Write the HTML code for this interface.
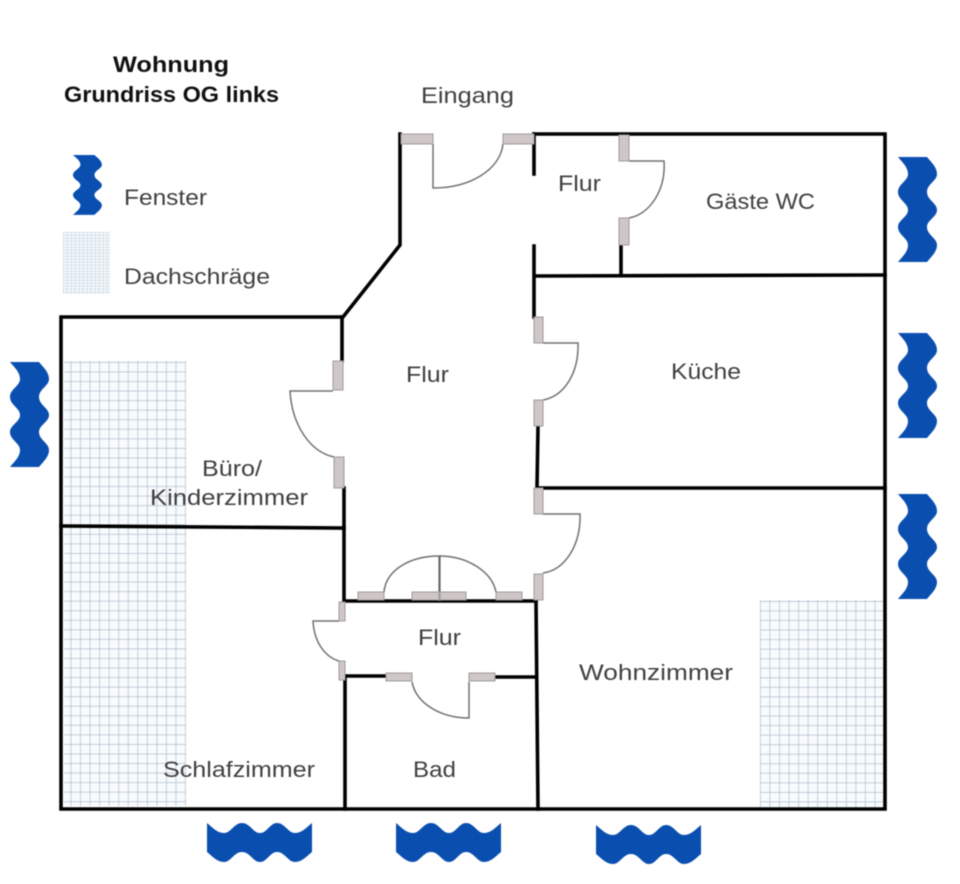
<!DOCTYPE html>
<html lang="de">
<head>
<meta charset="utf-8">
<title>Wohnung Grundriss OG links</title>
<style>
html,body{margin:0;padding:0;background:#fff;width:960px;height:884px;overflow:hidden}
svg{display:block;filter:blur(.5px)}
text{font-family:"Liberation Sans",sans-serif;font-size:22px;fill:#404040}
.t{font-weight:bold;fill:#111}
.w{fill:none;stroke:#000;stroke-width:3.6;stroke-linecap:square;stroke-linejoin:miter}
.d{fill:none;stroke:#707070;stroke-width:1.5}
.j{fill:#cfc7c7;stroke:#a09a9a;stroke-width:1}
.win{fill:#0a4fb0}
</style>
</head>
<body>
<svg width="960" height="884" viewBox="0 0 960 884" xmlns="http://www.w3.org/2000/svg">
<defs>
<pattern id="g" width="9.55" height="9.55" patternUnits="userSpaceOnUse" x="61" y="362">
<path d="M0 0H9.55M0 0V9.55" fill="none" stroke="#aebccd" stroke-width="1.4"/>
</pattern>
<pattern id="g2" width="9.55" height="9.55" patternUnits="userSpaceOnUse" x="760" y="601">
<path d="M0 0H9.55M0 0V9.55" fill="none" stroke="#aebccd" stroke-width="1.4"/>
</pattern>
<pattern id="g3" width="4" height="3" patternUnits="userSpaceOnUse" x="63" y="232">
<path d="M0 0H4M0 0V3" fill="none" stroke="#c6d4e1" stroke-width="1"/>
</pattern>
<path id="wv" d="M0 0C5 4 10 10 17 10C24 10 27 0 35 0C43 0 46 10 53 10C60 10 63 0 70 0C78 0 81 10 88 10C95 10 100 4 105 0L105 29C100 33 95 39 88 39C81 39 78 29 70 29C63 29 60 39 53 39C46 39 43 29 35 29C27 29 24 39 17 39C10 39 5 33 0 29Z"/>
</defs>

<!-- Dachschräge -->
<rect x="64" y="361" width="122" height="445" fill="#f8fbfd"/>
<rect x="64" y="361" width="122" height="445" fill="url(#g)"/>
<rect x="760" y="600" width="124" height="207" fill="#f8fbfd"/>
<rect x="760" y="600" width="124" height="207" fill="url(#g2)"/>
<rect x="63" y="232" width="47" height="62" fill="#f4f8fb"/>
<rect x="63" y="232" width="47" height="62" fill="url(#g3)"/>

<!-- Fenster -->
<g class="win">
<use href="#wv" transform="matrix(0 1 1 0 898 157)"/>
<use href="#wv" transform="matrix(0 1 1 0 898 333)"/>
<use href="#wv" transform="matrix(0 1 1 0 898 494)"/>
<use href="#wv" transform="matrix(0 1 1 0 10 362)"/>
<use href="#wv" transform="translate(207 823)"/>
<use href="#wv" transform="translate(396 823)"/>
<use href="#wv" transform="translate(596 825)"/>
<use href="#wv" transform="matrix(0 .57 .74 0 73 155)"/>
</g>

<!-- Wände -->
<g class="w">
<path d="M534 134H885V809H61V317H343L400 245V134"/>
<path d="M342 317V361"/>
<path d="M344 488V601H536"/>
<path d="M61 526L344 528"/>
<path d="M534 134V174"/>
<path d="M534 246V317"/>
<path d="M535 276L885 275"/>
<path d="M621 245V275"/>
<path d="M538 426L537 488H885"/>
<path d="M536 601L538 809"/>
<path d="M345 676V809"/>
<path d="M345 676H386"/>
<path d="M495 677H536"/>
</g>

<!-- Türblätter -->
<g class="d">
<path d="M433 144V188C470 188 500 170 503 144"/>
<path d="M629 161H664C666 190 650 214 629 218"/>
<path d="M333 391H290C292 425 310 452 334 457"/>
<path d="M543 343H578C579 372 565 396 543 400"/>
<path d="M543 514H580C581 545 565 570 543 573"/>
<path d="M384 592C386 570 410 556 439 556C468 556 492 572 496 592"/>
<path d="M339 621H313C314 642 325 657 339 661"/>
<path d="M412 682C416 703 440 718 469 718V682"/>
</g>
<path d="M439.500 556V601" fill="none" stroke="#666" stroke-width="2.200"/>

<!-- Türzargen -->
<g class="j">
<rect x="401" y="134" width="32" height="10"/>
<rect x="503" y="134" width="31" height="10"/>
<rect x="619" y="135" width="10" height="26"/>
<rect x="619" y="218" width="10" height="27"/>
<rect x="333" y="361" width="10" height="29"/>
<rect x="334" y="457" width="10" height="31"/>
<rect x="534" y="317" width="9" height="26"/>
<rect x="534" y="400" width="9" height="26"/>
<rect x="534" y="488" width="9" height="26"/>
<rect x="534" y="574" width="9" height="26"/>
<rect x="358" y="592" width="26" height="8"/>
<rect x="412" y="592" width="27" height="8"/>
<rect x="440" y="592" width="26" height="8"/>
<rect x="496" y="592" width="26" height="8"/>
<rect x="339" y="602" width="6" height="19"/>
<rect x="339" y="661" width="6" height="19"/>
<rect x="386" y="673" width="26" height="8"/>
<rect x="469" y="673" width="26" height="8"/>
</g>

<!-- Beschriftung -->
<text class="t" x="113" y="72" textLength="116" lengthAdjust="spacingAndGlyphs">Wohnung</text>
<text class="t" x="64" y="102" textLength="215" lengthAdjust="spacingAndGlyphs">Grundriss OG links</text>
<text x="421" y="103" textLength="93" lengthAdjust="spacingAndGlyphs">Eingang</text>
<text x="124" y="205" textLength="83" lengthAdjust="spacingAndGlyphs">Fenster</text>
<text x="124" y="284" textLength="146" lengthAdjust="spacingAndGlyphs">Dachschräge</text>
<text x="558" y="191" textLength="43" lengthAdjust="spacingAndGlyphs">Flur</text>
<text x="706" y="209" textLength="109" lengthAdjust="spacingAndGlyphs">Gäste WC</text>
<text x="406" y="382" textLength="43" lengthAdjust="spacingAndGlyphs">Flur</text>
<text x="671" y="379" textLength="70" lengthAdjust="spacingAndGlyphs">Küche</text>
<text x="202" y="476" textLength="60" lengthAdjust="spacingAndGlyphs">Büro/</text>
<text x="150" y="505" textLength="158" lengthAdjust="spacingAndGlyphs">Kinderzimmer</text>
<text x="418" y="645" textLength="43" lengthAdjust="spacingAndGlyphs">Flur</text>
<text x="579" y="680" textLength="154" lengthAdjust="spacingAndGlyphs">Wohnzimmer</text>
<text x="163" y="777" textLength="152" lengthAdjust="spacingAndGlyphs">Schlafzimmer</text>
<text x="413" y="777" textLength="43" lengthAdjust="spacingAndGlyphs">Bad</text>
</svg>
</body>
</html>
